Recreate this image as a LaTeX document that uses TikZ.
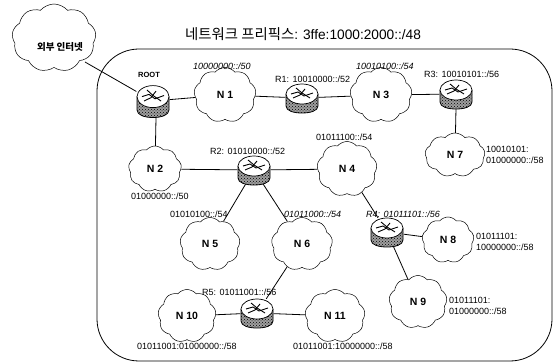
\documentclass[tikz,border=0pt]{standalone}
\usepackage{fontspec}
\setmainfont{Liberation Sans}
\newfontfamily\krfont{Noto Sans CJK KR}
\usetikzlibrary{shapes.symbols,patterns}
\tikzset{
  x=1pt,y=-1pt,
  netcloud/.style 2 args={cloud,cloud ignores aspect,draw,line width=0.5pt,cloud puffs=9,cloud puff arc=100,inner sep=0pt,minimum width=#1,minimum height=#2,font=\bfseries\fontsize{10.5}{11}\selectfont},
  routerbox/.style={inner sep=0pt,minimum width=33pt,minimum height=27pt},
  link/.style={line width=0.8pt},
  lab/.style={font=\fontsize{9}{11.5}\selectfont,inner sep=0pt,align=left,anchor=west},
  ilab/.style={lab,font=\fontsize{9}{11.5}\selectfont\itshape},
  router/.pic={
    \fill[gray!75] (-16,-4) -- (-16,8) .. controls (-16,13) and (-8,15) .. (0,15) .. controls (8,15) and (16,13) .. (16,8) -- (16,-4) -- cycle;
    \fill[pattern=crosshatch dots,pattern color=black] (-16,-4) -- (-16,8) .. controls (-16,13) and (-8,15) .. (0,15) .. controls (8,15) and (16,13) .. (16,8) -- (16,-4) -- cycle;
    \draw[line width=0.8pt] (-16,-4) -- (-16,8) .. controls (-16,13) and (-8,15) .. (0,15) .. controls (8,15) and (16,13) .. (16,8) -- (16,-4);
    \draw[line width=0.7pt,fill=white] (0,-4) ellipse [x radius=16,y radius=10];
    \draw[line width=0.9pt] (-11,-4) -- (-4,-6) -- (2,-2) -- (11,-5);
    \draw[line width=0.9pt] (-9,0) -- (-2,-3) -- (3,-9);
    \draw[line width=0.9pt] (-6,-10) -- (0,-5) -- (8,0);
  }
}
\begin{document}
\begin{tikzpicture}
\useasboundingbox (0,0) rectangle (554,363);
\fill[white] (0,0) rectangle (554,363);
\draw[line width=0.8pt,rounded corners=42pt] (97,49) rectangle (552,361);
\node[font=\fontsize{13.7}{15}\selectfont,inner sep=0pt] (title) at (303,34) {{\krfont\fontsize{14.4}{15}\selectfont 네트워크 프리픽스}: 3ffe:1000:2000::/48};

% clouds
\node[netcloud={84pt}{68pt}] (ext) at (54,38) {};
\node[font=\krfont\bfseries\fontsize{9.5}{10}\selectfont,inner sep=0pt] (extlab) at (60,47) {외부 인터넷};
\node[netcloud={62pt}{55pt}] (n1) at (225,95) {N 1};
\node[netcloud={62pt}{55pt}] (n3) at (381,95) {N 3};
\node[netcloud={60pt}{44pt}] (n7) at (455,155) {N 7};
\node[netcloud={60pt}{55pt}] (n4) at (347,169) {N 4};
\node[netcloud={53pt}{46pt}] (n2) at (155,169) {N 2};
\node[netcloud={60pt}{53pt}] (n5) at (210,244) {N 5};
\node[netcloud={61pt}{53pt}] (n6) at (302,244) {N 6};
\node[netcloud={58pt}{53pt}] (n10) at (187,316) {N 10};
\node[netcloud={60pt}{53pt}] (n11) at (335,316) {N 11};
\node[netcloud={52pt}{46pt}] (n8) at (448,240) {N 8};
\node[netcloud={58pt}{53pt}] (n9) at (418,302) {N 9};

% routers
\node[routerbox,minimum height=33pt] (root) at (153,101) {};
\node[routerbox,minimum height=28pt] (r1) at (302,98) {};
\node[routerbox,minimum height=28pt] (r3) at (456,94) {};
\node[routerbox,minimum height=28pt] (r2) at (254,170) {};
\node[routerbox,minimum height=28pt] (r4) at (387,232) {};
\node[routerbox,minimum height=28pt] (r5) at (257,313) {};

% connectors
\coordinate (extend) at (85,62);
\draw[link] (extend) -- (root);
\draw[link] (root) -- (n1);
\draw[link] (n1) -- (r1);
\draw[link] (r1) -- (n3);
\draw[link] (n3) -- (r3);
\draw[link] (r3.south) -- (n7);
\draw[link] (root.south) ++(3,0) -- (n2);
\draw[link] (n2) -- (r2);
\draw[link] (r2) -- (n4);
\draw[link] (r2) -- (n5);
\draw[link] (r2) -- (n6);
\draw[link] (n6) -- (r5);
\draw[link] (n4) -- (r4);
\draw[link] (r4) -- (n8);
\draw[link] (r4) -- (n9);
\draw[link] (n10) -- (r5);
\draw[link] (r5) -- (n11);

\foreach \r/\h in {root/1.1,r1/1,r3/1,r2/1,r4/1,r5/1}
  \pic[yscale=\h] at (\r) {router};

% labels
\node[lab,font=\bfseries\fontsize{7.5}{8}\selectfont] (l0) at (138,75) {ROOT};
\node[ilab] (l1) at (193,66) {10000000::/50};
\node[lab] (l2) at (275,79) {R1: 10010000::/52};
\node[ilab] (l3) at (356,66) {10010100::/54};
\node[lab] (l4) at (424,74) {R3: 10010101::/56};
\node[lab] (l5) at (486,155) {10010101:\\01000000::/58};
\node[lab] (l6) at (316,137) {01011100::/54};
\node[lab] (l7) at (210,151) {R2: 01010000::/52};
\node[lab] (l8) at (131,196) {01000000::/50};
\node[lab] (l9) at (170,214) {01010100::/54};
\node[ilab] (l10) at (284,214) {01011000::/54};
\node[ilab] (l11) at (366,214) {R4: 01011101::/56};
\node[lab] (l12) at (476,242) {01011101:\\10000000::/58};
\node[lab] (l13) at (449,306) {01011101:\\01000000::/58};
\node[lab] (l14) at (202,292) {R5: 01011001::/56};
\node[lab] (l15) at (137,346) {01011001:01000000::/58};
\node[lab] (l16) at (293,346) {01011001:10000000::/58};
\end{tikzpicture}
\end{document}
